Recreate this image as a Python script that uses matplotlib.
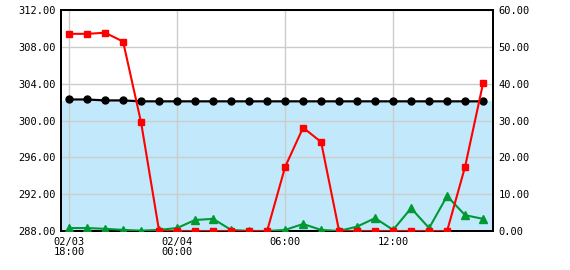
import matplotlib
matplotlib.use("Agg")
import matplotlib.pyplot as plt
import pandas as pd

# hourly observations, 02/03 18:00 -> 02/04 17:00
times = pd.date_range("2024-02-03 18:00", periods=24, freq="h")

# left axis series (black)
level = [302.3, 302.3, 302.2, 302.2, 302.1, 302.1, 302.1, 302.1, 302.1, 302.1,
         302.1, 302.1, 302.1, 302.1, 302.1, 302.1, 302.1, 302.1, 302.1, 302.1,
         302.1, 302.1, 302.1, 302.1]
band_top = 302.1

# right axis series
red = [53.6, 53.6, 53.9, 51.5, 29.5, 0, 0, 0, 0, 0, 0, 0,
       17.4, 28.1, 24.2, 0, 0, 0, 0, 0, 0, 0, 17.5, 40.2]
green = [0.8, 0.8, 0.6, 0.3, 0.1, 0.3, 0.8, 3.0, 3.3, 0.3, 0.0, 0.0,
         0.3, 1.9, 0.3, 0.0, 1.2, 3.5, 0.3, 6.2, 0.8, 9.5, 4.3, 3.3]

left_ticks = [288, 292, 296, 300, 304, 308, 312]
right_ticks = [0, 10, 20, 30, 40, 50, 60]
xtick_times = pd.to_datetime(["2024-02-03 18:00", "2024-02-04 00:00",
                              "2024-02-04 06:00", "2024-02-04 12:00"])
xtick_labels = ["02/03\n18:00", "02/04\n00:00", "06:00", "12:00"]

plt.rcParams['font.family'] = ['DejaVu Sans Mono']
plt.rcParams['font.size'] = 7.5

fig = plt.figure(figsize=(5.7, 2.7), dpi=100)
ax = fig.add_axes([61/570, 1-231/270, (493-61)/570, (231-10.3)/270])
ax2 = ax.twinx()

ax.axhspan(288, band_top, color='#c2e9fb', zorder=0.1, lw=0)
ax.set_axisbelow(True)
ax.grid(True, color='#cccccc', lw=1)

ax.plot(times, level, color='black', lw=1.6, marker='o', markersize=5, zorder=5)
ax2.plot(times, green, color='#009933', lw=1.5, marker='^', markersize=6, zorder=3)
ax2.plot(times, red, color='#ff0000', lw=1.5, marker='s', markersize=4.5, zorder=4)

ax.set_ylim(288, 312)
ax2.set_ylim(0, 60)
ax.set_yticks(left_ticks)
ax.set_yticklabels([f"{v:.2f}" for v in left_ticks])
ax2.set_yticks(right_ticks)
ax2.set_yticklabels([f"{v:.2f}" for v in right_ticks])

ax.set_xlim(times[0] - pd.Timedelta(minutes=27), times[-1] + pd.Timedelta(minutes=33))
ax.set_xticks(xtick_times)
ax.set_xticklabels(xtick_labels, linespacing=1.0)

for a in (ax, ax2):
    a.tick_params(length=0, pad=4)
    for s in a.spines.values():
        s.set_linewidth(1.4)
        s.set_color('black')

fig.savefig('out.png', dpi=100)
